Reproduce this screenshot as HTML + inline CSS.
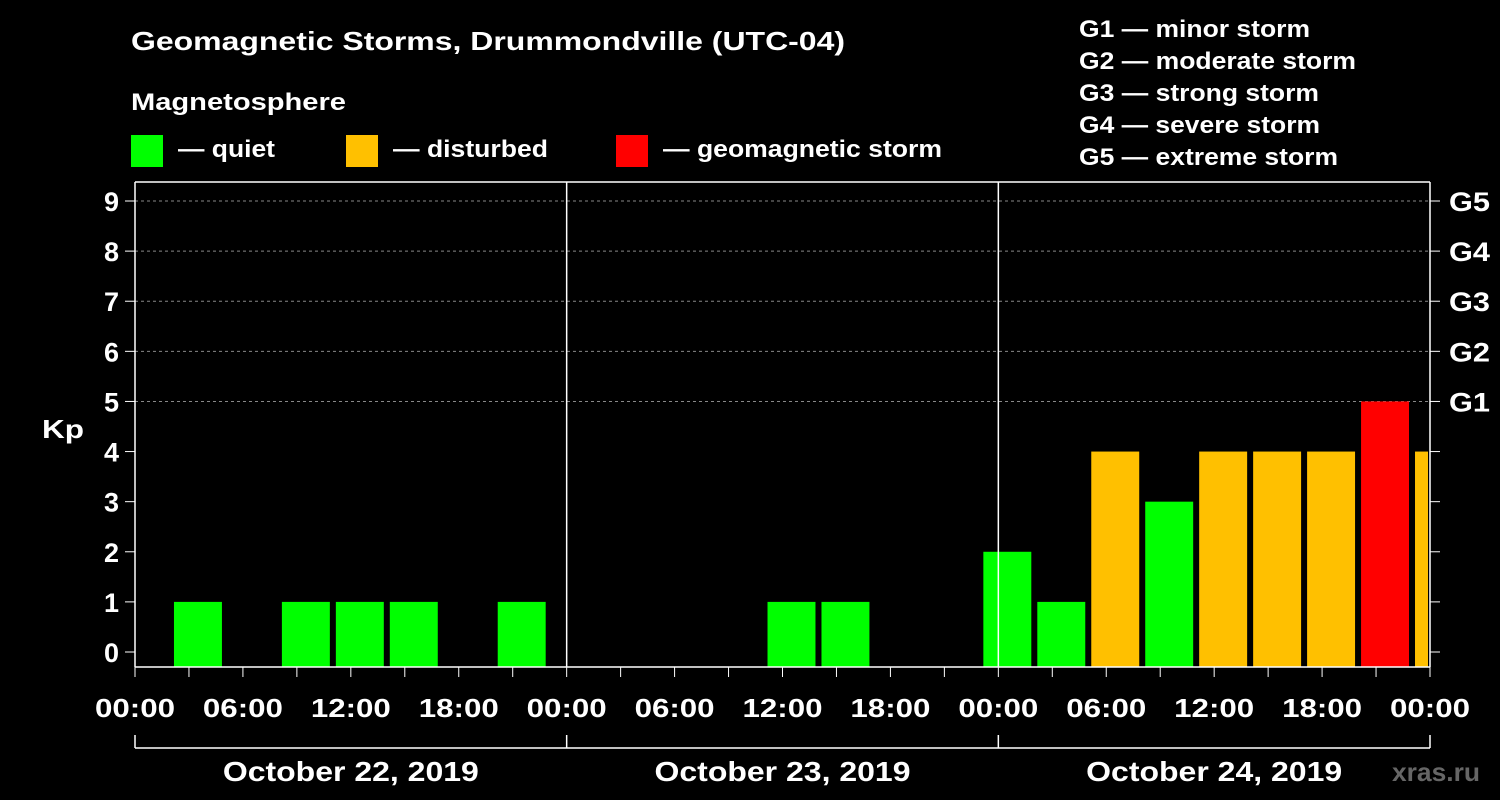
<!DOCTYPE html>
<html><head><meta charset="utf-8"><style>
html,body{margin:0;padding:0;background:#000;}
svg{display:block;font-family:"Liberation Sans",Arial,sans-serif;font-weight:bold;}
</style></head><body>
<svg id="chart" width="1500" height="800" viewBox="0 0 1500 800">
<rect width="1500" height="800" fill="#000"/>
<text x="131" y="50" fill="#fff" font-size="26" textLength="714" lengthAdjust="spacingAndGlyphs">Geomagnetic Storms, Drummondville (UTC-04)</text>
<text x="131" y="110" fill="#fff" font-size="24" textLength="215" lengthAdjust="spacingAndGlyphs">Magnetosphere</text>
<g><rect x="131" y="135" width="32" height="32" fill="#00ff00"/><text x="178" y="157" fill="#fff" font-size="24" textLength="97" lengthAdjust="spacingAndGlyphs">— quiet</text></g>
<g><rect x="346" y="135" width="32" height="32" fill="#ffc000"/><text x="393" y="157" fill="#fff" font-size="24" textLength="155" lengthAdjust="spacingAndGlyphs">— disturbed</text></g>
<g><rect x="616" y="135" width="32" height="32" fill="#ff0000"/><text x="663" y="157" fill="#fff" font-size="24" textLength="279" lengthAdjust="spacingAndGlyphs">— geomagnetic storm</text></g>
<g fill="#fff" font-size="24" lengthAdjust="spacingAndGlyphs">
<text x="1079" y="37" textLength="231" lengthAdjust="spacingAndGlyphs">G1 — minor storm</text>
<text x="1079" y="69" textLength="277" lengthAdjust="spacingAndGlyphs">G2 — moderate storm</text>
<text x="1079" y="101" textLength="240" lengthAdjust="spacingAndGlyphs">G3 — strong storm</text>
<text x="1079" y="133" textLength="241" lengthAdjust="spacingAndGlyphs">G4 — severe storm</text>
<text x="1079" y="165" textLength="259" lengthAdjust="spacingAndGlyphs">G5 — extreme storm</text>
</g>
<text x="42" y="438" fill="#fff" font-size="26" textLength="42" lengthAdjust="spacingAndGlyphs">Kp</text>
<text x="1392" y="781" fill="#666" font-size="26" textLength="88" lengthAdjust="spacingAndGlyphs">xras.ru</text>
<g id="plot"></g>
</svg>
<script>
const startHours = [2,8,11,14,20, 35,38, 47,50,53,56,59,62,65,68,71];
const kpValues = [1,1,1,1,1, 1,1, 2,1,4,3,4,4,4,5,4];
const yTicks = [0,1,2,3,4,5,6,7,8,9];
const gLabels = ["G1","G2","G3","G4","G5"];
const dayLabels = ["October 22, 2019","October 23, 2019","October 24, 2019"];
const timeLabels = ["00:00","06:00","12:00","18:00"];

const NS="http://www.w3.org/2000/svg";
const X0=135, X1=1430, TOP=182, BOT=667, HOURS=72;
const xs=h=>X0+(h/HOURS)*(X1-X0);
const ys=v=>652-v*(652-201)/9;
const g=document.getElementById('plot');
function mk(t,a,p){const e=document.createElementNS(NS,t);for(const k in a)e.setAttribute(k,a[k]);(p||g).appendChild(e);return e;}

yTicks.forEach(v=>{
  if(v>=5){const l=mk('line',{x1:X0,x2:X1,y1:ys(v),y2:ys(v),stroke:'#888','stroke-dasharray':'3,3','stroke-width':1});
  
  }
  const t=mk('line',{x1:X0-10,x2:X0,y1:ys(v),y2:ys(v),stroke:'#fff','stroke-width':1});
  
  
  const r=mk('line',{x1:X1,x2:X1+10,y1:ys(v),y2:ys(v),stroke:'#fff','stroke-width':1});
  
  
  const tx=mk('text',{x:X0-16,y:ys(v)+10,fill:'#fff','font-size':27,'text-anchor':'end'});tx.textContent=v;
  
  
});
gLabels.forEach((s,i)=>{
  const tx=mk('text',{x:X1+19,y:ys(5+i)+10,fill:'#fff','font-size':27,textLength:41,lengthAdjust:'spacingAndGlyphs'});tx.textContent=s;
  
  
});
const clip=mk('clipPath',{id:'pc'});mk('rect',{x:X0,y:TOP,width:X1-X0-2,height:BOT-TOP},clip);
startHours.forEach((h,i)=>{
  const v=kpValues[i];const c=v>=5?'#ff0000':(v>=4?'#ffc000':'#00ff00');
  const x=xs(h)+3,w=xs(h+3)-xs(h)-6;
  const b=mk('rect',{x:x,y:ys(v),width:w,height:BOT-ys(v),fill:c,'clip-path':'url(#pc)'});
  
  
});
[[X0,TOP,X0,BOT],[X1,TOP,X1,BOT],[X0,TOP,X1,TOP],[X0,BOT,X1,BOT],[xs(24),TOP,xs(24),BOT],[xs(48),TOP,xs(48),BOT]].forEach(a=>{
  const l=mk('line',{x1:a[0],y1:a[1],x2:a[2],y2:a[3],stroke:'#fff','stroke-width':1.5});
  
  
});
for(let h=0;h<=HOURS;h+=3){
  const l=mk('line',{x1:xs(h),x2:xs(h),y1:BOT,y2:BOT+10,stroke:'#fff','stroke-width':1});
  
  
  if(h%6===0){const t=mk('text',{x:xs(h),y:717,fill:'#fff','font-size':26,'text-anchor':'middle',textLength:80,lengthAdjust:'spacingAndGlyphs'});
  t.textContent=timeLabels[(h/6)%4];
  
  }
}
const br=mk('line',{x1:X0,x2:X1,y1:748,y2:748,stroke:'#fff','stroke-width':1.5});


for(let d=0;d<=3;d++){const l=mk('line',{x1:xs(d*24),x2:xs(d*24),y1:735,y2:748,stroke:'#fff','stroke-width':1.5});
  
  }
dayLabels.forEach((s,i)=>{
  const t=mk('text',{x:xs(i*24+12),y:781,fill:'#fff','font-size':28,'text-anchor':'middle',textLength:256,lengthAdjust:'spacingAndGlyphs'});t.textContent=s;
  
  
});
</script>
</body></html>
